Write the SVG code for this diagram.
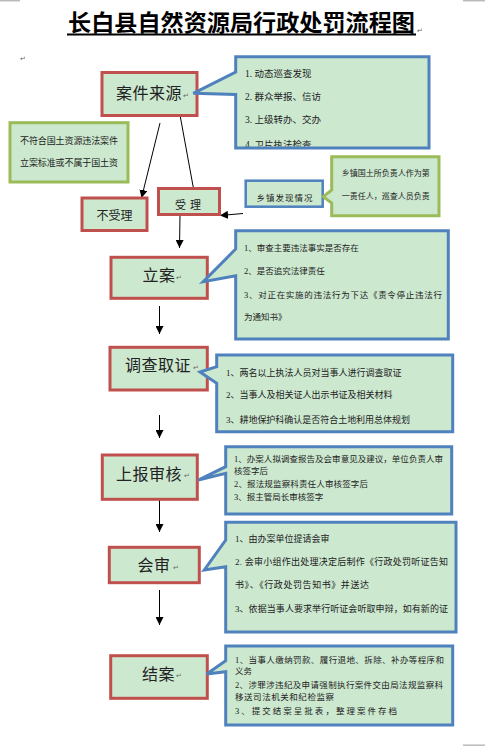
<svg xmlns="http://www.w3.org/2000/svg" width="485" height="746" viewBox="0 0 485 746">
<style>
.red{fill:#cce8cf;stroke:#c0504d;stroke-width:3}
.blue{fill:#cce8cf;stroke:#4f81bd;stroke-width:3;stroke-linejoin:miter}
.green{fill:#cce8cf;stroke:#9bbb59;stroke-width:3}
.t{font-family:"Liberation Serif","Noto Sans CJK SC",serif;fill:#222}
.big{font-size:16px;letter-spacing:0.5px}
.s9{font-size:9px}
.s85{font-size:8.5px}
.s8{font-size:8px}
.rm{font-size:7px;fill:#666;font-family:"DejaVu Sans",sans-serif}
.arr{stroke:#000;stroke-width:1;fill:none;marker-end:url(#ah)}
.corner{stroke:#bbb;stroke-width:1.5}
</style>
<defs>
<marker id="ah" viewBox="0 0 10 10" refX="10" refY="5" markerWidth="8" markerHeight="8" markerUnits="userSpaceOnUse" orient="auto">
<path d="M0,0 L10,5 L0,10 Z" fill="#000"/>
</marker>
<clipPath id="c1"><rect x="237" y="58" width="190" height="88.5"/></clipPath>
</defs>
<rect width="485" height="746" fill="#fff"/>
<line class="corner" x1="0" y1="0.7" x2="20" y2="0.7"/>
<line class="corner" x1="463" y1="0.7" x2="485" y2="0.7"/>
<line class="corner" x1="463" y1="745.2" x2="485" y2="745.2"/>
<text class="rm" x="20" y="61">↵</text>

<g id="title">
<text class="t" x="68" y="31" style="font-size:23px;font-weight:bold;fill:#000" textLength="347" lengthAdjust="spacingAndGlyphs">长白县自然资源局行政处罚流程图</text>
<line x1="67" y1="34.5" x2="416" y2="34.5" stroke="#000" stroke-width="2"/>
<text class="rm" x="417" y="33">↵</text>
</g>

<g id="connectors">
<line class="arr" x1="160" y1="123" x2="141.5" y2="198"/>
<line class="arr" x1="180" y1="115" x2="196.5" y2="205"/>
<line class="arr" x1="180" y1="215" x2="179.5" y2="248"/>
<line class="arr" x1="243" y1="213.5" x2="220" y2="215.5"/>
<line class="arr" x1="159.5" y1="306" x2="159.5" y2="334"/>
<line class="arr" x1="159.5" y1="415" x2="159.5" y2="438"/>
<line class="arr" x1="159.5" y1="499" x2="159.5" y2="532"/>
<line class="arr" x1="159.5" y1="590" x2="159.5" y2="625"/>
</g>

<g id="n-source">
<rect class="red" x="102" y="72.5" width="95" height="43"/>
<text class="t big" x="116" y="99">案件来源</text>
<text class="rm" x="183" y="98">↵</text>
</g>

<g id="c-source">
<path class="blue" d="M235.7,56.7 H429 V148 H235.7 V94.5 L193.3,93.3 L235.7,72 Z"/>
<g clip-path="url(#c1)">
<text class="t" style="font-size:9.5px" x="245" y="77">1.  动态巡查发现</text>
<text class="t" style="font-size:9.5px" x="245" y="99.5">2.  群众举报、信访</text>
<text class="t" style="font-size:9.5px" x="245" y="122.5">3.  上级转办、交办</text>
<text class="t" style="font-size:9.5px" x="245" y="148">4.  卫片执法检查</text>
</g>
</g>

<g id="n-reject-note">
<rect class="green" x="10" y="122.7" width="118" height="59.3"/>
<text class="t s9" x="20" y="143.5" textLength="98">不符合国土资源违法案件</text>
<text class="t s9" x="20" y="166" textLength="98">立案标准或不属于国土资</text>
</g>

<g id="n-reject">
<rect class="red" x="82" y="198" width="65" height="32.5"/>
<text class="t" style="font-size:12px" x="96.5" y="220" textLength="36">不受理</text>
</g>

<g id="n-accept">
<rect class="red" x="158.5" y="188.5" width="61" height="26"/>
<text class="t" style="font-size:11px;letter-spacing:4px" x="175" y="209">受理</text>
</g>

<g id="n-town">
<rect x="245.7" y="180.7" width="77" height="26" fill="#cce8cf" stroke="#4f81bd" stroke-width="2.5"/>
<text class="t s85" x="256.5" y="200.5" textLength="56">乡镇发现情况</text>
</g>

<g id="c-town">
<path class="green" d="M331.7,156.7 H439 V215.7 H331.7 V203 L323.3,196.7 L331.7,190 Z"/>
<text class="t s8" x="341.7" y="176" textLength="88">乡镇国土所负责人作为第</text>
<text class="t s8" x="341.7" y="199" textLength="88">一责任人，巡查人员负责</text>
</g>

<g id="n-file">
<rect class="red" x="111" y="257.3" width="96.3" height="41"/>
<text class="t big" x="142.5" y="281">立案</text>
<text class="rm" x="176" y="280">↵</text>
</g>

<g id="c-file">
<path class="blue" d="M235.7,230.7 H448.3 V339 H235.7 V275.7 L203.3,281.7 L235.7,249 Z"/>
<text class="t s85" x="244" y="251">1、审查主要违法事实是否存在</text>
<text class="t s85" x="244" y="273.5">2、是否追究法律责任</text>
<text class="t s85" x="244" y="297.5" textLength="198">3、对正在实施的违法行为下达《责令停止违法行</text>
<text class="t s85" x="244" y="320">为通知书》</text>
</g>

<g id="n-investigate">
<rect class="red" x="110" y="347.3" width="97.3" height="42.7"/>
<text class="t big" x="125" y="371">调查取证</text>
<text class="rm" x="193" y="370">↵</text>
</g>

<g id="c-investigate">
<path class="blue" d="M216.7,355 H452.7 V431.7 H216.7 V383.3 L200,372 L216.7,366.7 Z"/>
<text class="t s9" x="226" y="375.5" textLength="175.5">1、两名以上执法人员对当事人进行调查取证</text>
<text class="t s9" x="226" y="398" textLength="166.5">2、当事人及相关证人出示书证及相关材料</text>
<text class="t s9" x="226" y="422.5" textLength="184">3、耕地保护科确认是否符合土地利用总体规划</text>
</g>

<g id="n-review">
<rect class="red" x="102.3" y="455" width="95" height="44.3"/>
<text class="t big" x="116" y="479.5">上报审核</text>
<text class="rm" x="184" y="478">↵</text>
</g>

<g id="c-review">
<path class="blue" d="M225.7,446.7 H451.7 V514 H225.7 V473.3 L198.3,480 L225.7,466.7 Z"/>
<text class="t s85" x="234" y="461.5" textLength="209">1、办案人拟调查报告及会审意见及建议，单位负责人审</text>
<text class="t s85" x="234" y="474">核签字后</text>
<text class="t s85" x="234" y="486.5" textLength="134">2、报法规监察科责任人审核签字后</text>
<text class="t s85" x="234" y="500">3、报主管局长审核签字</text>
</g>

<g id="n-joint">
<rect class="red" x="109.3" y="547.3" width="90" height="35.4"/>
<text class="t big" x="137.5" y="571">会审</text>
<text class="rm" x="173" y="570">↵</text>
</g>

<g id="c-joint">
<path class="blue" d="M225.7,522.3 H456 V632 H225.7 V566.7 L204.3,570 L225.7,540 Z"/>
<text class="t s9" x="235" y="542">1、由办案单位提请会审</text>
<text class="t s9" x="235" y="565" textLength="213">2.  会审小组作出处理决定后制作《行政处罚听证告知</text>
<text class="t s9" x="235" y="588" textLength="134">书》、《行政处罚告知书》并送达</text>
<text class="t s9" x="235" y="611.5" textLength="213">3、依据当事人要求举行听证会听取申辩，如有新的证</text>
</g>

<g id="n-close">
<rect class="red" x="110.7" y="655.7" width="96.6" height="42.6"/>
<text class="t big" x="142" y="679.5">结案</text>
<text class="rm" x="176" y="678">↵</text>
</g>

<g id="c-close">
<path class="blue" d="M225.7,646 H452.7 V725 H225.7 V671.7 L206.7,674 L225.7,660.7 Z"/>
<text class="t s85" x="235" y="662.5" textLength="209">1、当事人缴纳罚款、履行退地、拆除、补办等程序和</text>
<text class="t s85" x="235" y="674">义务</text>
<text class="t s85" x="235" y="688" textLength="208">2、涉罪涉违纪及申请强制执行案件交由局法规监察科</text>
<text class="t s85" x="235" y="700" textLength="99">移送司法机关和纪检监察</text>
<text class="t s85" x="235" y="713.5" textLength="162">3、提交结案呈批表，整理案件存档</text>
</g>
</svg>
